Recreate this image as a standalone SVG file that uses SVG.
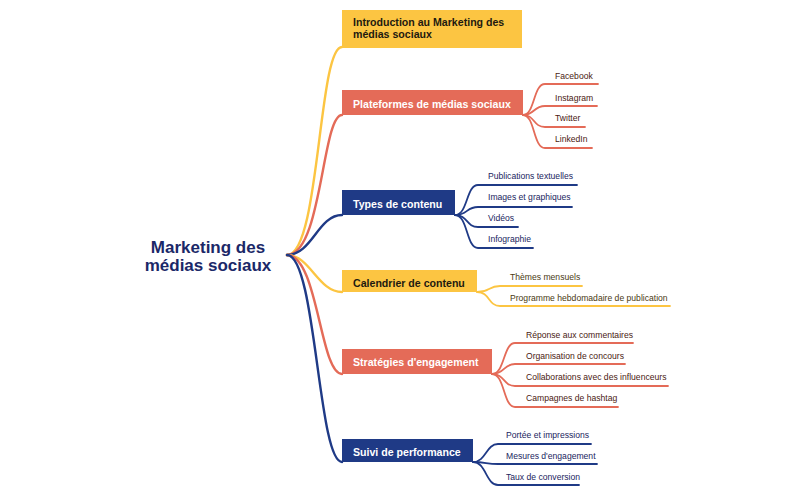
<svg xmlns="http://www.w3.org/2000/svg" width="800" height="495" viewBox="0 0 800 495">
<style>
.c{fill:none;stroke-width:2.4;stroke-linecap:round;stroke-linejoin:round}
.f{fill:none;stroke-width:1.8;stroke-linecap:round;stroke-linejoin:round}
.y{stroke:#fcc542}.s{stroke:#e46b58}.n{stroke:#1f3a86}
.main{font-family:"Liberation Sans",Arial,sans-serif;font-weight:bold;font-size:10.6px}
.sub{font-family:"Liberation Sans",Arial,sans-serif;font-size:8.6px}
.root{font-family:"Liberation Sans",Arial,sans-serif;font-weight:bold;font-size:17px;fill:#1b2868}
</style>
<rect width="800" height="495" fill="#ffffff"/>
<g id="connectors">
<path class="c y" d="M287,255 C320,255 318,47 342,47"/>
<path class="c s" d="M287,255 C322,255 322,115 342,115"/>
<path class="c n" d="M287,255 C312,255 318,215 342,215"/>
<path class="c y" d="M287,255 C310,255 318,292 342,292"/>
<path class="c s" d="M287,255 C318,255 320,374 342,374"/>
<path class="c n" d="M287,255 C316,255 318,462 342,462"/>
<!-- Plateformes fan -->
<path class="f s" d="M523,115 C535,115 533,84 545,84 L598,84"/>
<path class="f s" d="M523,115 C535,115 533,106 545,106 L597,106"/>
<path class="f s" d="M523,115 C535,115 533,127 545,127 L585,127"/>
<path class="f s" d="M523,115 C535,115 533,148 545,148 L592,148"/>
<!-- Types fan -->
<path class="f n" d="M455,215 C468,215 466,185 478,185 L577,185"/>
<path class="f n" d="M455,215 C468,215 466,207 478,207 L572,207"/>
<path class="f n" d="M455,215 C468,215 466,227 478,227 L518,227"/>
<path class="f n" d="M455,215 C468,215 466,248 478,248 L533,248"/>
<!-- Calendrier fan -->
<path class="f y" d="M477,292 C490,292 488,286 500,286 L582,286"/>
<path class="f y" d="M477,292 C490,292 488,306 500,306 L670,306"/>
<!-- Strategies fan -->
<path class="f s" d="M492,374 C505,374 503,343 515,343 L633,343"/>
<path class="f s" d="M492,374 C505,374 503,364 515,364 L625,364"/>
<path class="f s" d="M492,374 C505,374 503,386 515,386 L668,386"/>
<path class="f s" d="M492,374 C505,374 503,407 515,407 L618,407"/>
<!-- Suivi fan -->
<path class="f n" d="M473,462 C486,462 486,444 498,444 L591,444"/>
<path class="f n" d="M473,462 C486,462 486,464 498,464 L597,464"/>
<path class="f n" d="M473,462 C486,462 486,485 498,485 L579,485"/>
</g>
<g id="root">
<text class="root" x="208" y="253" text-anchor="middle">Marketing des</text>
<text class="root" x="208" y="271" text-anchor="middle">médias sociaux</text>
</g>
<g id="intro">
<rect x="342" y="10" width="180" height="38" fill="#fcc542"/>
<text class="main" x="353" y="26" fill="#1e1a10">Introduction au Marketing des</text>
<text class="main" x="353" y="38" fill="#1e1a10">médias sociaux</text>
</g>
<g id="plateformes">
<rect x="342" y="90" width="181" height="25" fill="#e46b58"/>
<text class="main" x="353" y="108" fill="#ffffff">Plateformes de médias sociaux</text>
<g class="sub" fill="#4a1a12">
<text x="555" y="79">Facebook</text>
<text x="555" y="101">Instagram</text>
<text x="555" y="121">Twitter</text>
<text x="555" y="142">LinkedIn</text>
</g>
</g>
<g id="types">
<rect x="342" y="190" width="113" height="25" fill="#1f3a86"/>
<text class="main" x="353" y="208" fill="#ffffff">Types de contenu</text>
<g class="sub" fill="#1a2560">
<text x="488" y="179">Publications textuelles</text>
<text x="488" y="200">Images et graphiques</text>
<text x="488" y="221">Vidéos</text>
<text x="488" y="242">Infographie</text>
</g>
</g>
<g id="calendrier">
<rect x="342" y="270" width="135" height="22" fill="#fcc542"/>
<text class="main" x="353" y="287" fill="#1e1a10">Calendrier de contenu</text>
<g class="sub" fill="#4a3a12">
<text x="510" y="280">Thèmes mensuels</text>
<text x="510" y="301">Programme hebdomadaire de publication</text>
</g>
</g>
<g id="strategies">
<rect x="342" y="349" width="150" height="25" fill="#e46b58"/>
<text class="main" x="353" y="366" fill="#ffffff">Stratégies d'engagement</text>
<g class="sub" fill="#4a1a12">
<text x="526" y="338">Réponse aux commentaires</text>
<text x="526" y="359">Organisation de concours</text>
<text x="526" y="380">Collaborations avec des influenceurs</text>
<text x="526" y="401">Campagnes de hashtag</text>
</g>
</g>
<g id="suivi">
<rect x="342" y="439" width="131" height="23" fill="#1f3a86"/>
<text class="main" x="353" y="456" fill="#ffffff">Suivi de performance</text>
<g class="sub" fill="#1a2560">
<text x="506" y="438">Portée et impressions</text>
<text x="506" y="459">Mesures d'engagement</text>
<text x="506" y="480">Taux de conversion</text>
</g>
</g>
</svg>
